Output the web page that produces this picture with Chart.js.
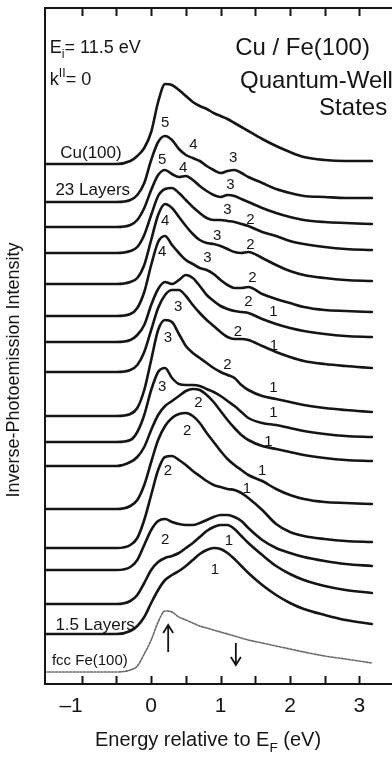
<!DOCTYPE html>
<html>
<head>
<meta charset="utf-8">
<title>Cu / Fe(100) Quantum-Well States</title>
<script src="https://cdn.jsdelivr.net/npm/chart.js@4.4.0/dist/chart.umd.min.js"></script>
<style>
  html, body { margin: 0; padding: 0; background: #fff; }
  #wrap { width: 392px; height: 759px; }
</style>
</head>
<body>
<div id="wrap"><canvas id="ipes" width="392" height="759"></canvas></div>
<script>
/* ---- Datos: energía (eV) y espectros apilados ---- */
const energy = [-1.53, -0.5, -0.3, -0.2, -0.1, 0, 0.1, 0.2, 0.3, 0.4, 0.5, 0.6, 0.7, 0.8, 0.9,
                1.0, 1.1, 1.2, 1.3, 1.4, 1.6, 1.8, 2.0, 2.2, 2.5, 2.8, 3.18];

// offset vertical de cada espectro (arriba -> abajo)
const stackOffset = [520, 482, 457, 431, 400, 368, 342, 312, 268, 242, 218, 175, 136, 114, 80, 50];
const fccOffset = 12;

// intensidad sobre la línea base
const cu100     = [0,0,3,8,16,32,62,80,79,74,68,62,58,55,51,48,45,41,37,33,25,18,12,7,4,3,3];
const layers23  = [0,0,2,7,19,42,60,66,62,53,47,44,41,36,32,29,31,32,29,25,19,13,9,6,5,4,4];
const spec03    = [0,0,2,7,19,37,52,57,53,50,51,47,41,36,32,30,32,31,28,25,19,14,10,7,5,4,3];
const spec04    = [0,0,2,6,18,38,57,64,65,60,53,46,40,35,33,33,32,31,29,27,21,17,12,9,6,4,3];
const spec05    = [0,0,2,6,19,44,69,80,76,67,58,50,44,41,40,38,35,32,31,32,26,19,13,9,6,4,3];
const spec06    = [0,0,2,8,24,51,74,80,71,63,56,52,48,46,42,36,31,28,28,29,22,17,13,9,6,5,4];
const spec07    = [0,0,2,7,17,37,53,60,58,62,67,64,56,47,41,36,33,31,30,29,23,18,14,11,8,6,5];
const spec08    = [0,0,2,7,20,42,64,77,82,82,76,67,59,52,46,40,35,33,33,32,26,20,15,11,8,6,4];
const spec09    = [0,0,2,8,26,56,86,96,94,82,70,63,58,53,48,44,41,38,31,26,20,17,14,11,8,6,4];
const spec10    = [0,0,2,10,27,52,70,74,64,58,57,57,56,53,50,46,41,36,30,24,19,17,14,11,8,6,5];
const spec11    = [0,0,4,9,19,36,51,60,65,70,75,77,76,71,64,55,46,38,31,26,20,17,14,11,8,6,5];
const spec12    = [0,0,3,9,24,47,69,83,91,95,96,93,86,76,67,58,50,44,39,34,28,20,14,10,7,6,5];
const spec13    = [0,0,3,10,28,53,78,91,92,88,83,77,72,67,63,61,59,58,55,50,38,24,16,12,9,7,6];
const spec14    = [0,0,3,10,25,40,49,51,48,46,45,45,47,50,53,55,55,53,49,42,30,22,17,13,9,6,4];
const spec15    = [0,0,3,9,21,34,42,46,48,51,56,61,67,73,77,79,79,75,68,61,49,38,30,24,18,14,11];
const layers1_5 = [0,0,3,8,17,31,44,54,59,63,68,74,80,84,86,85,81,75,68,61,49,39,31,25,19,14,10];
const fccFe100  = [0,0,2,6,18,32,50,61,60,55,52,49,46,44,42,40,38,36,34,32,29,26,23,20,16,13,9];

const spectra = [cu100, layers23, spec03, spec04, spec05, spec06, spec07, spec08,
                 spec09, spec10, spec11, spec12, spec13, spec14, spec15, layers1_5];

// ejes
const xMin = -1.53, xMax = 3.47, yMax = 676;
const tickValues = [-1, -0.5, 0, 0.5, 1, 1.5, 2, 2.5, 3];
const tickLabels = ['\u20131', '0', '1', '2', '3'];
const labelValues = [-1, 0, 1, 2, 3];

// números de estados cuánticos (x en eV, y en unidades del eje)
const stateText = ['5','4','3', '5','4','3', '3','2', '4','3','2', '4','3','2',
                   '3','2','1', '3','2','1', '2','3','1', '2','1', '2','1', '2','1', '1', '2','1', '1'];
const stateX = [0.20,0.61,1.18, 0.16,0.46,1.14, 1.10,1.43, 0.20,0.95,1.43, 0.16,0.81,1.46,
                0.39,1.40,1.76, 0.24,1.25,1.77, 1.10,0.16,1.76, 0.68,1.76, 0.52,1.69, 0.24,1.60, 1.38,
                0.20,1.12, 0.92];
const stateY = [561,539,526, 524,516,499, 474,464, 463,448,439, 432,426,406,
                377,382,372, 346,352,338, 319,297,296, 281,271, 253,242, 213,213, 195,
                144,143, 114];

/* ---- Helpers ---- */
const ink = '#151515';
const family = '"Liberation Sans", Arial, Helvetica, sans-serif';
const font = size => size + 'px ' + family;

// texto con subíndice / superíndice: parts = [[texto, 'sub'|'sup'|null], ...]
function richText(ctx, parts, x, y, size, align) {
  const widths = parts.map(([t, kind]) => {
    ctx.font = font(kind ? size * 0.68 : size);
    return ctx.measureText(t).width;
  });
  const total = widths.reduce((a, b) => a + b, 0);
  let cx = align === 'center' ? x - total / 2 : align === 'right' ? x - total : x;
  ctx.textAlign = 'left';
  ctx.textBaseline = 'alphabetic';
  parts.forEach(([t, kind], i) => {
    ctx.font = font(kind ? size * 0.68 : size);
    const dy = kind === 'sub' ? size * 0.28 : kind === 'sup' ? -size * 0.45 : 0;
    ctx.fillText(t, cx, y + dy);
    cx += widths[i];
  });
}

/* ---- Plugin: marco, ticks y textos ---- */
const decorations = {
  id: 'decorations',
  afterDatasetsDraw(chart) {
    const { ctx, chartArea: a, scales: { x, y } } = chart;
    const px = v => x.getPixelForValue(v);
    const py = v => y.getPixelForValue(v);
    ctx.save();
    ctx.strokeStyle = ink;
    ctx.fillStyle = ink;

    // marco
    ctx.lineWidth = 2;
    ctx.beginPath();
    ctx.moveTo(a.right + 4, a.top);
    ctx.lineTo(a.left, a.top);
    ctx.lineTo(a.left, a.bottom);
    ctx.lineTo(a.right + 4, a.bottom);
    ctx.stroke();

    // ticks hacia dentro
    ctx.lineWidth = 2;
    tickValues.forEach(v => {
      const tx = Math.round(px(v)) + 0.5;
      ctx.beginPath();
      ctx.moveTo(tx, a.top);
      ctx.lineTo(tx, a.top + 8);
      ctx.moveTo(tx, a.bottom);
      ctx.lineTo(tx, a.bottom - 8);
      ctx.stroke();
    });

    // etiquetas del eje x
    ctx.font = font(21);
    ctx.textBaseline = 'alphabetic';
    labelValues.forEach((v, i) => {
      ctx.textAlign = v < 0 ? 'right' : 'center';
      ctx.fillText(tickLabels[i], v < 0 ? px(v) + 1 : px(v), a.bottom + 28);
    });

    // título eje x
    richText(ctx, [['Energy relative to E', null], ['F', 'sub'], [' (eV)', null]],
             208, a.bottom + 62, 20, 'center');

    // título eje y
    ctx.save();
    ctx.translate(19, 370);
    ctx.rotate(-Math.PI / 2);
    ctx.font = font(18);
    ctx.textAlign = 'center';
    ctx.textBaseline = 'alphabetic';
    ctx.fillText('Inverse-Photoemission Intensity', 0, 0);
    ctx.restore();

    // cabecera
    richText(ctx, [['E', null], ['i', 'sub'], ['= 11.5 eV', null]], px(-1.46), py(631), 18, 'left');
    richText(ctx, [['k', null], ['II', 'sup'], ['= 0', null]], px(-1.46), py(599), 18, 'left');
    ctx.font = font(24);
    ctx.textAlign = 'left';
    ctx.fillText('Cu / Fe(100)', px(1.21), py(629));
    ctx.fillText('Quantum-Well', px(1.28), py(596));
    ctx.textAlign = 'right';
    ctx.fillText('States', px(3.40), py(569));

    // nombres de las curvas
    ctx.textAlign = 'left';
    ctx.font = font(17);
    ctx.fillText('Cu(100)', px(-1.31), py(526));
    ctx.fillText('23 Layers', px(-1.38), py(489));
    ctx.fillText('1.5 Layers', px(-1.38), py(54));
    ctx.font = font(15);
    ctx.fillText('fcc Fe(100)', px(-1.43), py(19));

    // números de estados
    ctx.font = font(15);
    ctx.textAlign = 'center';
    ctx.textBaseline = 'middle';
    stateText.forEach((t, i) => ctx.fillText(t, px(stateX[i]), py(stateY[i])));

    // flechas de espín
    ctx.lineWidth = 1.8;
    const arrow = (xv, yFrom, yTo) => {
      const ax = px(xv), y0 = py(yFrom), y1 = py(yTo);
      const dir = y1 < y0 ? 1 : -1;
      ctx.beginPath();
      ctx.moveTo(ax, y0);
      ctx.lineTo(ax, y1);
      ctx.moveTo(ax - 5, y1 + dir * 8);
      ctx.lineTo(ax, y1);
      ctx.lineTo(ax + 5, y1 + dir * 8);
      ctx.stroke();
    };
    arrow(0.245, 32, 59);
    arrow(1.22, 41, 19);

    ctx.restore();
  }
};

/* ---- Gráfica ---- */
const datasets = spectra.map((s, i) => ({
  label: 'spectrum ' + (i + 1),
  data: energy.map((e, j) => ({ x: e, y: stackOffset[i] + s[j] })),
  borderColor: ink,
  borderWidth: 2.6,
  pointRadius: 0,
  fill: false,
  cubicInterpolationMode: 'monotone',
}));

datasets.push({
  label: 'fcc Fe(100)',
  data: energy.map((e, j) => ({ x: e, y: fccOffset + fccFe100[j] })),
  borderColor: '#6a6a6a',
  borderWidth: 1.6,
  borderDash: [2, 1.5],
  pointRadius: 0,
  fill: false,
  cubicInterpolationMode: 'monotone',
});

new Chart(document.getElementById('ipes').getContext('2d'), {
  type: 'line',
  data: { datasets },
  options: {
    responsive: false,
    animation: false,
    devicePixelRatio: 1,
    layout: { padding: { left: 45, top: 8, right: 0, bottom: 75 } },
    elements: { line: { borderCapStyle: 'round', borderJoinStyle: 'round' } },
    scales: {
      x: { type: 'linear', min: xMin, max: xMax, display: false },
      y: { type: 'linear', min: 0, max: yMax, display: false },
    },
    plugins: { legend: { display: false }, tooltip: { enabled: false } },
  },
  plugins: [decorations],
});
</script>
</body>
</html>
